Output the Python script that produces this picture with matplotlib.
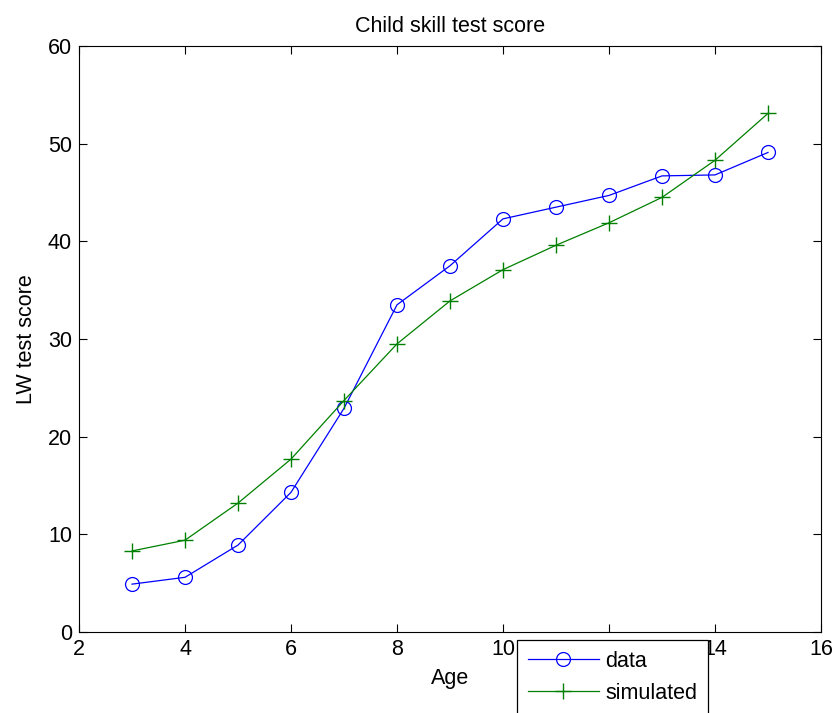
import matplotlib
matplotlib.use("Agg")
import matplotlib.pyplot as plt

plt.rcParams['font.family'] = ['Liberation Sans', 'DejaVu Sans']

ages = [3, 4, 5, 6, 7, 8, 9, 10, 11, 12, 13, 14, 15]
data_scores = [4.9, 5.6, 8.9, 14.3, 22.9, 33.5, 37.5, 42.3, 43.5, 44.7, 46.7, 46.8, 49.1]
simulated_scores = [8.3, 9.4, 13.2, 17.7, 23.7, 29.5, 33.9, 37.1, 39.6, 41.9, 44.5, 48.3, 53.1]
x_ticks = [2, 4, 6, 8, 10, 12, 14, 16]
y_ticks = [0, 10, 20, 30, 40, 50, 60]

FS = 15.5
W, H = 834, 713
fig = plt.figure(figsize=(W / 100, H / 100), dpi=100)
ax = fig.add_axes([79 / W, (H - 632) / H, 742 / W, 586 / H])

ax.plot(ages, data_scores, color='#0000ff', lw=0.9, marker='o', ms=10,
        mfc='none', mec='#0000ff', mew=0.9, label='data')
ax.plot(ages, simulated_scores, color='#008000', lw=0.9, marker='+', ms=11,
        mew=1.0, label='simulated')

ax.set_xlim(2, 16)
ax.set_ylim(0, 60)
ax.set_xticks(x_ticks)
ax.set_yticks(y_ticks)
ax.tick_params(direction='in', top=True, right=True, length=6, width=0.8,
               labelsize=FS, pad=5)
for s in ax.spines.values():
    s.set_linewidth(0.8)

ax.set_title('Child skill test score', fontsize=FS, pad=10)
ax.set_xlabel('Age', fontsize=FS, labelpad=6)
ax.set_ylabel('LW test score', fontsize=FS, labelpad=8)

leg = ax.legend(loc='upper left', bbox_to_anchor=(517 / W, (H - 640) / H),
                bbox_transform=fig.transFigure, fontsize=FS, frameon=True,
                fancybox=False, edgecolor='black', framealpha=1,
                borderpad=0.5, labelspacing=0.5, handlelength=3.3,
                handletextpad=0.3, borderaxespad=0)
leg.get_frame().set_linewidth(0.9)

fig.savefig('out.png', dpi=100)
